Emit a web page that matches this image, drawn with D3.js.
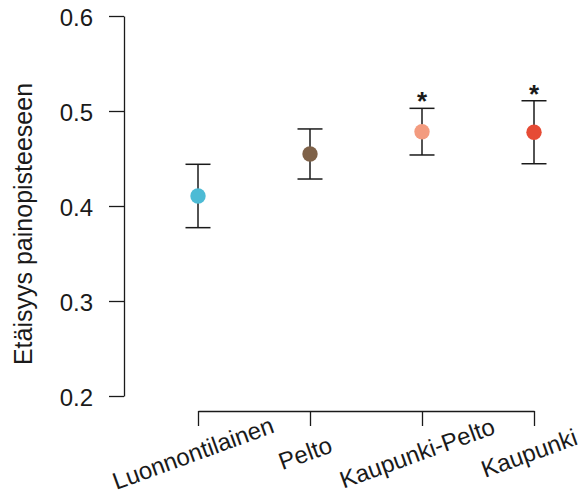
<!DOCTYPE html>
<html>
<head>
<meta charset="utf-8">
<script src="https://cdn.jsdelivr.net/npm/d3@7"></script>
<style>
  body { margin: 0; background: #fff; }
  svg { display: block; font-family: "Liberation Sans", Arial, sans-serif; }
</style>
</head>
<body>
<svg id="chart"></svg>
<script>
const categories = ["Luonnontilainen", "Pelto", "Kaupunki-Pelto", "Kaupunki"]
const means = [0.4105, 0.4547, 0.4782, 0.4776]
const lower = [0.3772, 0.4284, 0.4537, 0.4445]
const upper = [0.4439, 0.4811, 0.5028, 0.5108]
const significant = [false, false, true, true]
const colors = ["#4DBBD5", "#7E6148", "#F39B7F", "#E64B35"]
const yTicks = [0.2, 0.3, 0.4, 0.5, 0.6]

const width = 581
const height = 499
const svg = d3.select('#chart')
    .attr("width", width)
    .attr("height", height)

const data = categories.map((c, i) => ({
    name: c, mean: means[i], lo: lower[i], hi: upper[i], star: significant[i], color: colors[i]
}))

const y = d3.scaleLinear()
    .domain([0.2, 0.6])
    .range([396, 16])

const x = d3.scalePoint()
    .domain(categories)
    .range([198, 534])

const fontSize = 24
const ink = "#1a1a1a"

// y-akseli
const yAxis = svg.append('g')
    .attr("transform", "translate(124,0)")
    .call(d3.axisLeft(y).tickValues(yTicks).tickFormat(d3.format(".1f")).tickSize(15).tickSizeOuter(0).tickPadding(16))
yAxis.selectAll('path, line').attr("stroke", ink).attr("stroke-width", 1.3)
yAxis.selectAll('text')
    .attr("font-size", fontSize)
    .attr("font-family", "Liberation Sans, Arial, sans-serif")
    .attr("fill", ink)
    .attr("dy", "0.38em")

// x-akseli
const xAxis = svg.append('g')
    .attr("transform", "translate(0,411)")
    .call(d3.axisBottom(x).tickSize(15).tickSizeOuter(0).tickFormat(""))
xAxis.selectAll('path, line').attr("stroke", ink).attr("stroke-width", 1.3)

svg.append('g')
    .selectAll('text')
    .data(categories)
    .enter()
    .append('text')
    .attr("transform", d => `translate(${x(d) - 2},461) rotate(-20)`)
    .attr("text-anchor", "middle")
    .attr("font-size", fontSize)
    .attr("fill", ink)
    .text(d => d)

// akselin otsikko
svg.append('text')
    .attr("transform", "translate(32,224) rotate(-90)")
    .attr("text-anchor", "middle")
    .attr("font-size", 25)
    .attr("fill", ink)
    .text("Etäisyys painopisteeseen")

// virhepalkit
const groups = svg.selectAll('g.point')
    .data(data)
    .enter()
    .append('g')
    .attr('class', 'point')

groups.append('line')
    .attr("x1", d => x(d.name)).attr("x2", d => x(d.name))
    .attr("y1", d => y(d.lo)).attr("y2", d => y(d.hi))
    .attr("stroke", ink).attr("stroke-width", 1.5)

groups.selectAll('line.cap')
    .data(d => [{ name: d.name, v: d.lo }, { name: d.name, v: d.hi }])
    .enter()
    .append('line')
    .attr('class', 'cap')
    .attr("x1", d => x(d.name) - 12.5).attr("x2", d => x(d.name) + 12.5)
    .attr("y1", d => y(d.v)).attr("y2", d => y(d.v))
    .attr("stroke", ink).attr("stroke-width", 1.5)

groups.append('circle')
    .attr("cx", d => x(d.name))
    .attr("cy", d => y(d.mean))
    .attr("r", 7.7)
    .attr("fill", d => d.color)

groups.filter(d => d.star)
    .append('text')
    .attr("x", d => x(d.name))
    .attr("y", d => y(d.hi) + 2)
    .attr("text-anchor", "middle")
    .attr("font-size", 26)
    .attr("font-weight", "bold")
    .attr("fill", ink)
    .text("*")
</script>
</body>
</html>
